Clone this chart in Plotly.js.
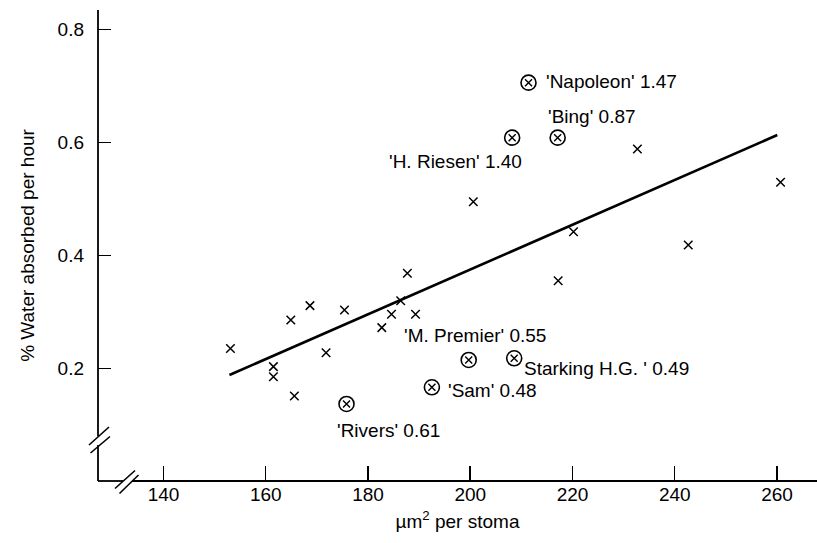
<!DOCTYPE html>
<html>
<head>
<meta charset="utf-8">
<script src="https://cdn.plot.ly/plotly-3.0.1.min.js"></script>
<style>html,body{margin:0;padding:0;background:#fff;}#chart{width:817px;height:543px;}</style>
</head>
<body>
<div id="chart"></div>
<script>
// Cultivars without labels (x markers): area per stoma (µm²) and % water absorbed per hour
const plainArea  = [153.1, 161.5, 161.5, 164.9, 165.6, 168.65, 171.8, 175.4, 182.7, 184.6, 186.4, 187.7, 189.3, 200.6, 217.2, 220.2, 232.7, 242.65, 260.7];
const plainWater = [0.235, 0.203, 0.185, 0.2855, 0.151, 0.311, 0.2276, 0.3032, 0.272, 0.2956, 0.3197, 0.3682, 0.2956, 0.495, 0.3551, 0.4419, 0.5883, 0.4183, 0.5294];

// Labelled cultivars (circled x markers)
const namedLabels = ["'Napoleon'", "'Bing'", "'H. Riesen'", "'M. Premier'", "Starking H.G. '", "'Sam'", "'Rivers'"];
const namedValues = [1.47, 0.87, 1.40, 0.55, 0.49, 0.48, 0.61];
const namedArea   = [211.4, 217.1, 208.2, 199.7, 208.6, 192.5, 175.8];
const namedWater  = [0.7058, 0.6084, 0.6084, 0.2147, 0.2177, 0.1664, 0.1368];

// Fitted regression line end points
const fitArea  = [152.9, 260.06];
const fitWater = [0.1881, 0.6131];

// Tick values
const xTicks = [140, 160, 180, 200, 220, 240, 260];
const yTicks = [0.2, 0.4, 0.6, 0.8];

// Label placement (pixel offsets from each circled point) – layout only
const labelPlacement = [
  {xanchor: 'left',  xshift: 15,  yshift: 1},
  {xanchor: 'left',  xshift: -12, yshift: 21},
  {xanchor: 'right', xshift: 12,  yshift: -24},
  {xanchor: 'left',  xshift: -67, yshift: 24},
  {xanchor: 'left',  xshift: 8,   yshift: -10},
  {xanchor: 'left',  xshift: 14,  yshift: -3},
  {xanchor: 'left',  xshift: -12, yshift: -27}
];

const FONT = 'Liberation Sans, Arial, Helvetica, sans-serif';
const FS = 19;

const traces = [
  {x: fitArea, y: fitWater, mode: 'lines', type: 'scatter',
   line: {color: '#000', width: 2.6}, hoverinfo: 'skip', showlegend: false},
  {x: plainArea, y: plainWater, mode: 'markers', type: 'scatter',
   marker: {symbol: 'x-thin-open', size: 8.5, color: '#000', line: {color: '#000', width: 1.5}},
   showlegend: false},
  {x: namedArea, y: namedWater, mode: 'markers', type: 'scatter',
   marker: {symbol: 'circle-open', size: 15, color: '#000', line: {color: '#000', width: 1.6}},
   showlegend: false},
  {x: namedArea, y: namedWater, mode: 'markers', type: 'scatter',
   marker: {symbol: 'x-thin-open', size: 7, color: '#000', line: {color: '#000', width: 1.4}},
   showlegend: false, text: namedLabels, hoverinfo: 'x+y+text'}
];

const annotations = namedLabels.map((n, i) => ({
  x: namedArea[i], y: namedWater[i], xref: 'x', yref: 'y',
  text: n + ' ' + namedValues[i].toFixed(2),
  showarrow: false, xanchor: labelPlacement[i].xanchor, yanchor: 'middle',
  xshift: labelPlacement[i].xshift, yshift: labelPlacement[i].yshift,
  font: {family: FONT, size: FS, color: '#000'}
}));

// pixel -> paper helpers for axis lines and break marks
const L = 98, T = 10, W = 719, H = 471;
const px = v => (v - L) / W;
const py = v => (T + H - v) / H;
const seg = (x0, y0, x1, y1, w) => ({type: 'line', xref: 'paper', yref: 'paper',
  x0: px(x0), y0: py(y0), x1: px(x1), y1: py(y1), line: {color: '#000', width: w}});

const shapes = [
  seg(98, 10, 98, 436, 1.8),      // y axis upper
  seg(98, 445, 98, 481, 1.8),     // y axis lower
  seg(89, 445, 109, 427, 1.6),    // y break slash 1
  seg(90.5, 453, 110, 436.5, 1.6),// y break slash 2
  seg(98, 481, 123, 481, 1.8),    // x axis left part
  seg(132, 481, 817, 481, 1.8),   // x axis main
  seg(115, 488.5, 135, 470.5, 1.6),  // x break slash 1
  seg(119.5, 493.5, 138.5, 475, 1.6) // x break slash 2
];

const layout = {
  width: 817, height: 543,
  margin: {l: L, r: 817 - L - W, t: T, b: 543 - T - H, pad: 0},
  paper_bgcolor: '#fff', plot_bgcolor: '#fff',
  font: {family: FONT, size: FS, color: '#000'},
  showlegend: false,
  xaxis: {
    range: [127.19, 267.83], tickvals: xTicks, ticktext: xTicks.map(String),
    ticks: 'inside', ticklen: 15, tickwidth: 1.5, tickcolor: '#000',
    showgrid: false, zeroline: false, showline: false,
    tickfont: {family: FONT, size: FS, color: '#000'},
    title: {text: 'µm<sup>2</sup> per stoma', font: {family: FONT, size: FS, color: '#000'}, standoff: 10},
    automargin: false
  },
  yaxis: {
    range: [0.0004, 0.8345], tickvals: yTicks, ticktext: yTicks.map(v => v.toFixed(1)),
    ticks: 'inside', ticklen: 13, tickwidth: 1.5, tickcolor: '#000',
    showgrid: false, zeroline: false, showline: false,
    tickfont: {family: FONT, size: FS, color: '#000'},
    ticklabelstandoff: 13,
    title: {text: '% Water absorbed per hour', font: {family: FONT, size: FS, color: '#000'}, standoff: 17},
    automargin: false
  },
  shapes: shapes,
  annotations: annotations
};

Plotly.newPlot('chart', traces, layout, {displayModeBar: false, staticPlot: true});
</script>
</body>
</html>
